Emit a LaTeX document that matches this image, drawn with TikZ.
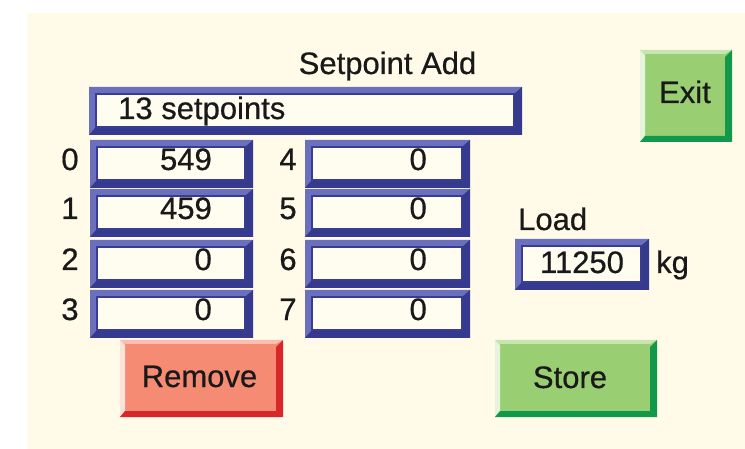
\documentclass[tikz,border=0pt]{standalone}
\usepackage{fontspec}
\setmainfont{Liberation Sans}
\newfontfamily\hmifont{Liberation Sans}[FakeBold=0.6]

\definecolor{panel}{HTML}{FFFBE8}
\definecolor{fieldmid}{HTML}{5056AB}
\definecolor{fielddark}{HTML}{353A8E}
\definecolor{fieldlight}{HTML}{6A70BE}
\definecolor{fieldin}{HTML}{FFFDF0}
\definecolor{fieldedge}{HTML}{383D92}
\definecolor{redface}{HTML}{F58B72}
\definecolor{reddark}{HTML}{D8262B}
\definecolor{redlight}{HTML}{FDE2DA}
\definecolor{greenface}{HTML}{99CF72}
\definecolor{greendark}{HTML}{12984A}
\definecolor{greenlight}{HTML}{E6F4DC}

% recessed entry field: outer x1 y1 x2 y2
\newcommand{\hmifield}[4]{%
  \fill[fieldmid] (#1,#2) rectangle (#3,#4);
  \fill[fieldlight] (#1,#2) -- (#3,#2) -- (#3-8,#2+7) -- (#1+7,#2+7)
        -- (#1+7,#4-8) -- (#1,#4) -- cycle;
  \fill[fielddark] (#3,#2) -- (#3,#4) -- (#1,#4) -- (#1+7,#4-8)
        -- (#3-8,#4-8) -- (#3-8,#2+7) -- cycle;
  \fill[fieldin] (#1+7,#2+7) rectangle (#3-8,#4-8);
  \draw[fieldedge, line width=1.2pt] (#1+7,#2+7) rectangle (#3-8,#4-8);
}

% raised push button: x1 y1 x2 y2 face dark light
\newcommand{\hmibutton}[7]{%
  \fill[#5] (#1,#2) rectangle (#3,#4);
  \fill[#7] (#1,#2) -- (#1,#4) -- (#1+5,#4-6) -- (#1+5,#2+5) -- cycle;
  \fill[#7!60!#5] (#1,#2) -- (#3,#2) -- (#3-7,#2+4) -- (#1+5,#2+4) -- cycle;
  \fill[#6] (#3,#2) -- (#3,#4) -- (#3-7,#4-6) -- (#3-7,#2+7) -- cycle;
  \fill[#6] (#1,#4) -- (#3,#4) -- (#3-7,#4-6) -- (#1+5,#4-6) -- cycle;
}

\begin{document}
\begin{tikzpicture}[x=1pt, y=-1pt,
    txt/.style={font=\hmifont\fontsize{31}{36}\selectfont, inner sep=0pt, text=black!90},
    lbl/.style={txt, anchor=base},
    num/.style={txt, anchor=base east},
    lft/.style={txt, anchor=base west}]
  \useasboundingbox (0,0) rectangle (745,449);
  \fill[panel] (28,13) rectangle (745,449);

  % title and counter field
  \node[lbl] (title) at (387.5,74) {Setpoint Add};
  \hmifield{89}{87}{522}{135}
  \node[lft] (count) at (118,119) {13 setpoints};

  % setpoint table, two columns of four
  \foreach \t/\i/\j/\u/\v in {140/0/4/549/0, 189/1/5/459/0, 240/2/6/0/0, 290/3/7/0/0} {
    \hmifield{90}{\t}{253}{\t+48}
    \hmifield{305}{\t}{470}{\t+48}
    \node[lbl] (idx\i) at (70,\t+30) {\i};
    \node[lbl] (idx\j) at (288,\t+30) {\j};
    \node[num] (val\i) at (212,\t+30) {\u};
    \node[num] (val\j) at (427,\t+30) {\v};
  }

  % load read-out
  \node[lft] (loadlbl) at (518,230) {Load};
  \hmifield{515}{239}{649}{290}
  \node[lbl] (load) at (582,273) {11250};
  \node[lft] (unit) at (656,273) {kg};

  % buttons
  \hmibutton{640}{50}{732}{142}{greenface}{greendark}{greenlight}
  \node[lbl] (exit) at (685,103) {Exit};
  \hmibutton{120}{340}{283}{417}{redface}{reddark}{redlight}
  \node[lbl] (remove) at (199.5,387) {Remove};
  \hmibutton{495}{340}{657}{417}{greenface}{greendark}{greenlight}
  \node[lbl] (store) at (570,388) {Store};
\end{tikzpicture}
\end{document}
